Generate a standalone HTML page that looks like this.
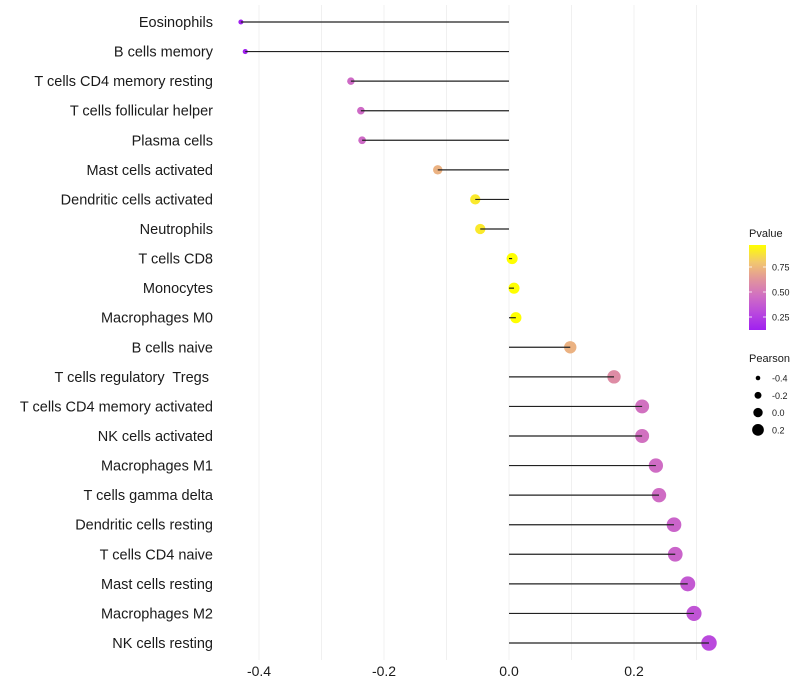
<!DOCTYPE html>
<html><head><meta charset="utf-8"><style>
html,body{margin:0;padding:0;background:#fff;}
svg{display:block;font-family:"Liberation Sans",Arial,sans-serif;}
text{white-space:pre;}
</style></head><body>
<svg id="chart" width="800" height="700"></svg>
<script>
const categories=["Eosinophils","B cells memory","T cells CD4 memory resting","T cells follicular helper","Plasma cells","Mast cells activated","Dendritic cells activated","Neutrophils","T cells CD8","Monocytes","Macrophages M0","B cells naive","T cells regulatory  Tregs ","T cells CD4 memory activated","NK cells activated","Macrophages M1","T cells gamma delta","Dendritic cells resting","T cells CD4 naive","Mast cells resting","Macrophages M2","NK cells resting"];
const pearson=[-0.429,-0.422,-0.253,-0.237,-0.235,-0.114,-0.054,-0.046,0.005,0.008,0.011,0.098,0.168,0.213,0.213,0.235,0.240,0.264,0.266,0.286,0.296,0.320];
const pvalue=[0.12,0.13,0.45,0.45,0.45,0.74,0.92,0.92,0.99,0.99,0.99,0.74,0.6,0.48,0.48,0.46,0.46,0.42,0.42,0.37,0.35,0.3];
const xTicks=[-0.4,-0.2,0.0,0.2];
const xTickLabels=["-0.4","-0.2","0.0","0.2"];
const xGrid=[-0.4,-0.3,-0.2,-0.1,0.0,0.1,0.2,0.3];
const pTicks=[0.25,0.50,0.75];
const sizeTicks=[-0.4,-0.2,0.0,0.2];

const NS="http://www.w3.org/2000/svg";
const svg=document.getElementById('chart');
const xScale=v=>509+v*625;
const yScale=i=>22+i*(621/21);
const rScale=v=>5.5+7*v;
const stops=[[0,[160,32,240]],[0.2,[185,72,222]],[0.4,[208,110,195]],[0.6,[226,150,155]],[0.8,[242,200,110]],[1,[255,255,0]]];
function colorFor(p){let t=Math.max(0,Math.min(1,(p-0.12)/(0.99-0.12)));
 for(let i=1;i<stops.length;i++){if(t<=stops[i][0]){const a=stops[i-1],b=stops[i];const f=(t-a[0])/(b[0]-a[0]);
 const c=a[1].map((v,k)=>Math.round(v+(b[1][k]-v)*f));return `rgb(${c[0]},${c[1]},${c[2]})`;}}return 'rgb(255,255,0)';}
function el(tag,attrs,parent){const e=document.createElementNS(NS,tag);for(const k in attrs)e.setAttribute(k,attrs[k]);(parent||svg).appendChild(e);return e;}

const grid=el('g',{});


xGrid.forEach(v=>{const l=el('line',{x1:xScale(v),x2:xScale(v),y1:5,y2:660,stroke:'#f0f0f0','stroke-width':1},grid);
 
 });

categories.forEach((c,i)=>{const y=yScale(i);
 const t=el('text',{x:213,y:y+5,'text-anchor':'end','font-size':14.5,fill:'#1a1a1a'});t.textContent=c;
 
 
 const p=el('circle',{cx:xScale(pearson[i]),cy:y,r:rScale(pearson[i]),fill:colorFor(pvalue[i])});
 
 
 const s=el('line',{x1:xScale(0),x2:xScale(pearson[i]),y1:y,y2:y,stroke:'#222','stroke-width':1.2});
 
 
});

xTicks.forEach((v,i)=>{const t=el('text',{x:xScale(v),y:676,'text-anchor':'middle','font-size':14,fill:'#1a1a1a'});t.textContent=xTickLabels[i];
 
 });

// Pvalue legend
const lg=el('g',{});


const defs=el('defs',{});
const grad=el('linearGradient',{id:'pg',x1:0,y1:1,x2:0,y2:0},defs);
stops.forEach(s=>el('stop',{offset:s[0],'stop-color':`rgb(${s[1].join(',')})`},grad));
const lt=el('text',{x:749,y:237,'font-size':11,fill:'#1a1a1a'},lg);lt.textContent='Pvalue';


const bar=el('rect',{x:749,y:245,width:17,height:85,fill:'url(#pg)'},lg);


pTicks.forEach(v=>{const y=342-v*100;
 el('line',{x1:749,x2:752,y1:y,y2:y,stroke:'#fff','stroke-width':0.8},lg);el('line',{x1:763,x2:766,y1:y,y2:y,stroke:'#fff','stroke-width':0.8},lg);
 const t=el('text',{x:772,y:y+3.5,'font-size':9,fill:'#1a1a1a'},lg);t.textContent=v.toFixed(2);
 
 });

// Pearson legend
const sg=el('g',{});


const st=el('text',{x:749,y:362,'font-size':11,fill:'#1a1a1a'},sg);st.textContent='Pearson';


sizeTicks.forEach((v,i)=>{const y=378+i*17.3;
 const c=el('circle',{cx:758,cy:y,r:rScale(v)*0.85,fill:'#000'},sg);
 
 
 const t=el('text',{x:772,y:y+3.5,'font-size':9,fill:'#1a1a1a'},sg);t.textContent=v.toFixed(1);
 
 });
</script>
</body></html>
